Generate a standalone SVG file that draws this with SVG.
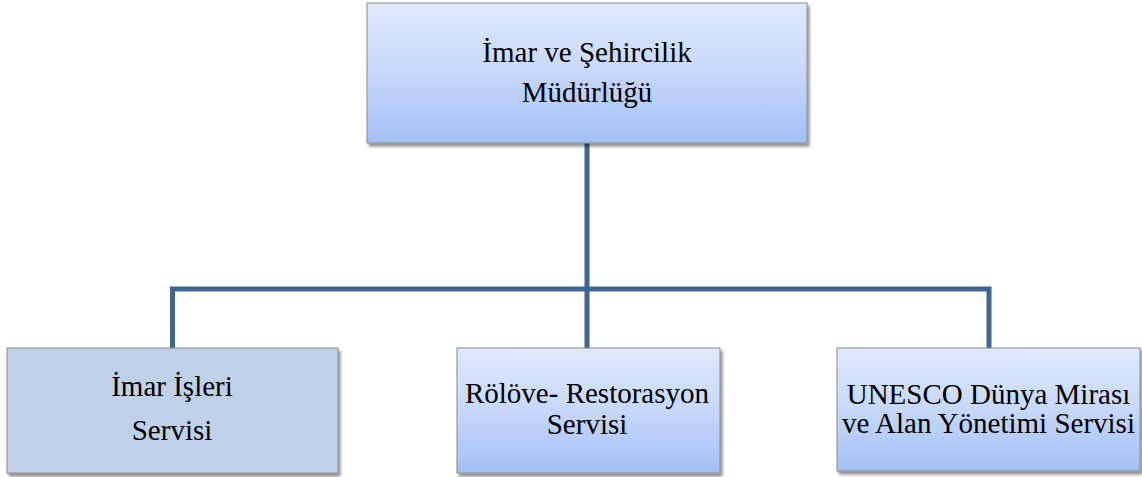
<svg xmlns="http://www.w3.org/2000/svg" width="1142" height="477" viewBox="0 0 1142 477">
<style>
.box{stroke:#8c8c8c;stroke-width:1;filter:url(#sh)}
.grad{fill:url(#g)}
.flat{fill:#bfd1e8}
.t{font-family:"Liberation Serif","Times New Roman",serif;font-size:29px;fill:#000;text-anchor:middle}
.c{fill:none;stroke:#3d6596;stroke-width:5;stroke-linejoin:miter}
</style>
<defs>
<linearGradient id="g" x1="0" y1="0" x2="0" y2="1">
<stop offset="0" stop-color="#dfe9fc"/>
<stop offset="0.5" stop-color="#c6d8fa"/>
<stop offset="1" stop-color="#a3c0f6"/>
</linearGradient>
<filter id="sh" x="-5%" y="-5%" width="115%" height="120%">
<feDropShadow dx="2" dy="3" stdDeviation="1.6" flood-color="#000" flood-opacity="0.45"/>
</filter>
</defs>
<g id="connectors">
<path class="c" d="M587 143 V348"/>
<path class="c" d="M172.5 348 V289 H989 V348"/>
</g>
<g id="node-mudurluk">
<rect class="box grad" x="367" y="3" width="440" height="140"/>
<text class="t" x="587" y="62">İmar ve Şehircilik</text>
<text class="t" x="587" y="102">Müdürlüğü</text>
</g>
<g id="node-imar-isleri">
<rect class="box flat" x="7" y="348" width="331" height="125"/>
<text class="t" x="172" y="396">İmar İşleri</text>
<text class="t" x="172" y="440">Servisi</text>
</g>
<g id="node-rolove">
<rect class="box grad" x="457" y="348" width="263" height="125"/>
<text class="t" x="587" y="403">Rölöve- Restorasyon</text>
<text class="t" x="587" y="434">Servisi</text>
</g>
<g id="node-unesco">
<rect class="box grad" x="837" y="348" width="303" height="123"/>
<text class="t" x="988.5" y="404">UNESCO Dünya Mirası</text>
<text class="t" x="988.5" y="433">ve Alan Yönetimi Servisi</text>
</g>
</svg>
